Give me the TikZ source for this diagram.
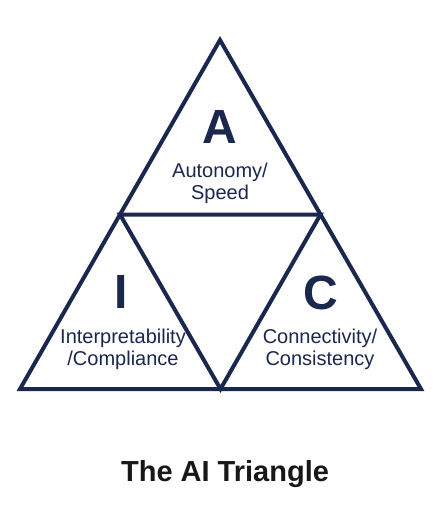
\documentclass[tikz,border=0pt]{standalone}
\usepackage{fontspec}
\setmainfont{Liberation Sans}
\usepackage{tikz}
\usetikzlibrary{calc}
\usetikzlibrary{positioning}
\definecolor{navy}{RGB}{27,40,78}
\definecolor{ink}{RGB}{24,24,24}
\tikzset{
  edge/.style={draw=navy,line width=4pt,line join=miter},
  letter/.style={text=navy,font=\fontsize{48}{50}\selectfont\bfseries,inner sep=0pt,anchor=base},
  label/.style={text=navy,font=\fontsize{20}{22}\selectfont,inner sep=0pt,anchor=base},
}
\begin{document}
\begin{tikzpicture}[x=1pt,y=-1pt]
\useasboundingbox[fill=white] (0,0) rectangle (435,512);
% corners of the big triangle and the midpoints of its sides
\coordinate (top) at (220,40);
\coordinate (left) at (20,389);
\coordinate (right) at (421,389);
\coordinate (midL) at ($(top)!0.5!(left)$);
\coordinate (midR) at ($(top)!0.5!(right)$);
\coordinate (midB) at ($(left)!0.5!(right)$);
% outer triangle
\draw[edge] (top) -- (left) -- (right) -- cycle;
% inner triangle
\draw[edge] (midL) -- (midR) -- (midB) -- cycle;
% letters
\node[letter] (A) at (220,143) {A};
\node[letter] (I) at (121,308) {I};
\node[letter] (C) at (321,309) {C};
% labels
\node[label] (aut) at (220,177) {Autonomy/};
\node[label] (spd) at (220,199) {Speed};
\node[label] (int) at (123,343) {Interpretability};
\node[label] (cmp) at (123,365) {/Compliance};
\node[label] (con) at (320,343) {Connectivity/};
\node[label] (cns) at (320,365) {Consistency};
% title
\node[text=ink,font=\fontsize{29}{31}\selectfont\bfseries,inner sep=0pt,anchor=base] (title) at (225,481) {The AI Triangle};
\end{tikzpicture}
\end{document}
